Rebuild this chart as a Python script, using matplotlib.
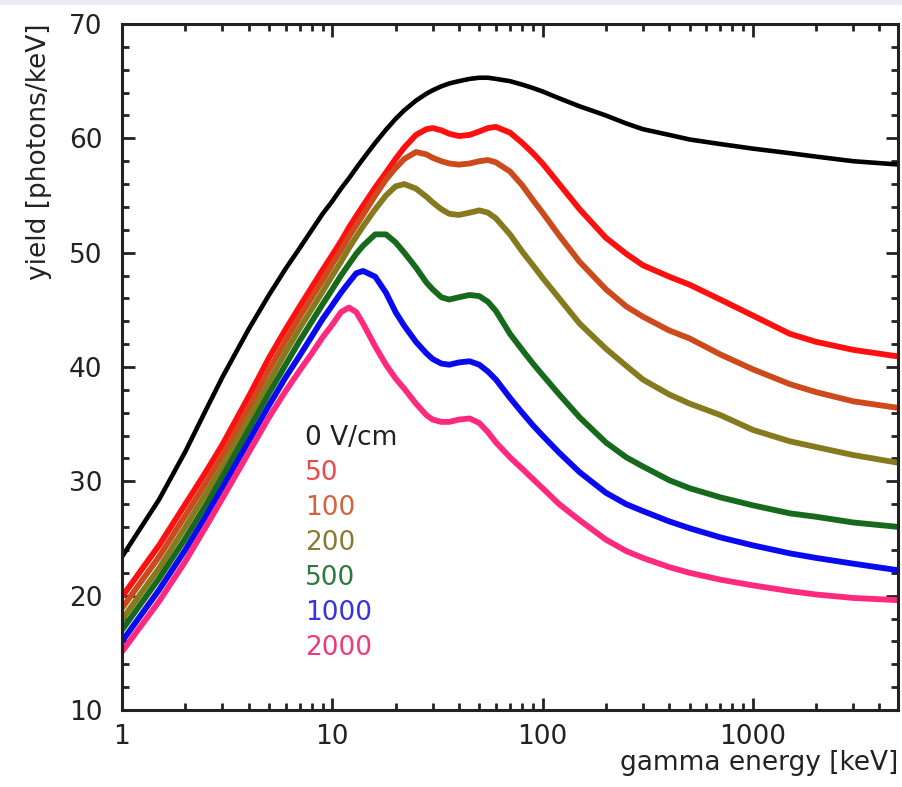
import matplotlib
matplotlib.use("Agg")
import matplotlib.pyplot as plt
from matplotlib.ticker import LogLocator, MultipleLocator, FixedLocator, NullFormatter
from matplotlib.patches import Rectangle

# gamma energies [keV] at which the yields are tabulated
energy = [1, 1.5, 2, 2.5, 3, 4, 5, 6, 7, 8, 9, 10, 11, 12, 13, 14, 16, 18, 20, 22,
          25, 28, 30, 33, 36, 40, 45, 50, 55, 60, 70, 80, 90, 100, 120, 150, 200,
          250, 300, 400, 500, 700, 1000, 1500, 2000, 3000, 5000]

# light yield [photons/keV] for each drift field
yield_0 = [23.4, 28.4, 32.6, 36.2, 39.1, 43.3, 46.3, 48.6, 50.4, 52.0, 53.4, 54.5, 55.6,
           56.5, 57.4, 58.2, 59.6, 60.75, 61.7, 62.45, 63.3, 63.9, 64.2, 64.55, 64.8, 65.0,
           65.2, 65.3, 65.3, 65.2, 65.0, 64.7, 64.4, 64.1, 63.5, 62.8, 62.0, 61.3, 60.8,
           60.3, 59.9, 59.5, 59.1, 58.7, 58.4, 58.0, 57.7]
yield_50 = [19.9, 24.4, 28.0, 30.8, 33.2, 37.4, 40.8, 43.3, 45.3, 47.0, 48.5, 49.8, 51.0,
            52.2, 53.2, 54.1, 55.7, 57.0, 58.2, 59.2, 60.3, 60.8, 60.9, 60.7, 60.4, 60.2,
            60.3, 60.6, 60.9, 61.0, 60.5, 59.6, 58.7, 57.8, 56.0, 53.8, 51.3, 49.9, 48.9,
            47.9, 47.2, 45.9, 44.5, 42.9, 42.2, 41.5, 40.9]
yield_100 = [18.9, 23.4, 27.0, 29.85, 32.25, 36.4, 39.75, 42.3, 44.4, 46.1, 47.6, 49.0, 50.2,
             51.4, 52.4, 53.3, 55.0, 56.4, 57.4, 58.2, 58.8, 58.6, 58.3, 58.0, 57.8, 57.7,
             57.8, 58.0, 58.1, 57.9, 57.1, 55.9, 54.6, 53.5, 51.5, 49.2, 46.8, 45.3, 44.4,
             43.2, 42.5, 41.1, 39.8, 38.5, 37.8, 37.0, 36.4]
yield_200 = [17.9, 22.4, 26.0, 28.9, 31.3, 35.45, 38.7, 41.3, 43.4, 45.1, 46.6, 48.0, 49.2,
             50.4, 51.4, 52.3, 53.8, 55.0, 55.8, 56.0, 55.6, 54.9, 54.4, 53.8, 53.4, 53.3,
             53.5, 53.7, 53.5, 53.0, 51.6, 50.1, 48.9, 47.8, 46.0, 43.8, 41.6, 40.1, 38.9,
             37.6, 36.8, 35.8, 34.5, 33.5, 33.0, 32.3, 31.6]
yield_500 = [17.0, 21.5, 25.0, 27.9, 30.4, 34.5, 37.7, 40.2, 42.3, 44.0, 45.5, 46.8, 48.0,
             49.0, 49.9, 50.6, 51.6, 51.6, 50.9, 50.0, 48.7, 47.4, 46.8, 46.1, 45.9, 46.1,
             46.3, 46.2, 45.7, 44.9, 42.9, 41.5, 40.3, 39.3, 37.6, 35.6, 33.4, 32.1, 31.3,
             30.1, 29.4, 28.6, 27.9, 27.2, 26.9, 26.4, 26.0]
yield_1000 = [16.0, 20.5, 24.0, 26.95, 29.45, 33.5, 36.65, 39.1, 41.0, 42.7, 44.2, 45.4, 46.5,
              47.4, 48.2, 48.4, 47.9, 46.5, 44.8, 43.6, 42.2, 41.2, 40.7, 40.3, 40.2, 40.4,
              40.5, 40.2, 39.6, 38.9, 37.3, 36.0, 34.9, 34.0, 32.5, 30.8, 29.0, 28.0, 27.4,
              26.5, 25.9, 25.1, 24.4, 23.7, 23.3, 22.8, 22.2]
yield_2000 = [15.1, 19.5, 23.0, 26.0, 28.5, 32.5, 35.6, 37.9, 39.7, 41.2, 42.6, 43.7, 44.8,
              45.2, 44.8, 43.8, 41.8, 40.2, 39.0, 38.1, 36.8, 35.8, 35.4, 35.2, 35.2, 35.4,
              35.5, 35.1, 34.3, 33.4, 32.1, 31.1, 30.2, 29.4, 28.0, 26.6, 24.9, 23.9, 23.3,
              22.5, 22.0, 21.4, 20.9, 20.4, 20.1, 19.8, 19.6]

series = [yield_0, yield_50, yield_100, yield_200, yield_500, yield_1000, yield_2000]
field_labels = ["0 V/cm", "50", "100", "200", "500", "1000", "2000"]
line_colors = ["#000000", "#ff1010", "#cc4a1c", "#857a1e", "#17691c", "#0a0af0", "#ff2a7e"]
text_colors = ["#202020", "#f04848", "#d4633e", "#8a7a34", "#2e7a3c", "#3434e0", "#f03a78"]
line_widths = [3.3, 4.2, 4.2, 4.2, 4.2, 4.2, 4.2]

x_ticks = [1, 10, 100, 1000]
x_tick_labels = ["1", "10", "100", "1000"]
y_ticks = [10, 20, 30, 40, 50, 60, 70]

plt.rcParams["font.family"] = ["DejaVu Sans"]
FS = 19

fig = plt.figure(figsize=(9.03, 7.87), dpi=100)
fig.patches.append(Rectangle((0, 1 - 5 / 787), 1, 5 / 787, transform=fig.transFigure,
                             facecolor="#ececf7", edgecolor="none", zorder=0))
ax = fig.add_axes([122 / 903, 1 - 710 / 787, (898 - 122) / 903, (710 - 24) / 787])

for vals, col, lw in zip(series, line_colors, line_widths):
    ax.plot(energy, vals, color=col, lw=lw, solid_capstyle="butt", solid_joinstyle="round")

ax.set_xscale("log")
ax.set_xlim(1, 4900)
ax.set_ylim(10, 70)

ax.xaxis.set_major_locator(FixedLocator(x_ticks))
ax.set_xticklabels(x_tick_labels)
ax.xaxis.set_minor_locator(LogLocator(base=10, subs=range(2, 10), numticks=20))
ax.xaxis.set_minor_formatter(NullFormatter())
ax.yaxis.set_major_locator(FixedLocator(y_ticks))
ax.yaxis.set_minor_locator(MultipleLocator(2))

for side in ax.spines.values():
    side.set_linewidth(2.2)
    side.set_color("#222222")
    side.set_zorder(3)

ax.tick_params(which="both", direction="in", top=True, right=True, colors="#222222",
               labelsize=FS, labelcolor="#222222")
ax.tick_params(which="major", length=9, width=2.0)
ax.tick_params(which="minor", length=5, width=2.0)
ax.tick_params(axis="y", which="major", pad=14)
ax.tick_params(axis="x", which="major", pad=10)

ax.set_ylabel("yield [photons/keV]", fontsize=FS, loc="top", labelpad=12, color="#222222")
ax.set_xlabel("gamma energy [keV]", fontsize=FS, loc="right", labelpad=0, color="#222222")

for i, (lab, tc) in enumerate(zip(field_labels, text_colors)):
    ax.text(0.236, 0.3965 - i * 0.051, lab, transform=ax.transAxes, fontsize=FS,
            color=tc, ha="left", va="center")

fig.savefig("out.png", dpi=100)
